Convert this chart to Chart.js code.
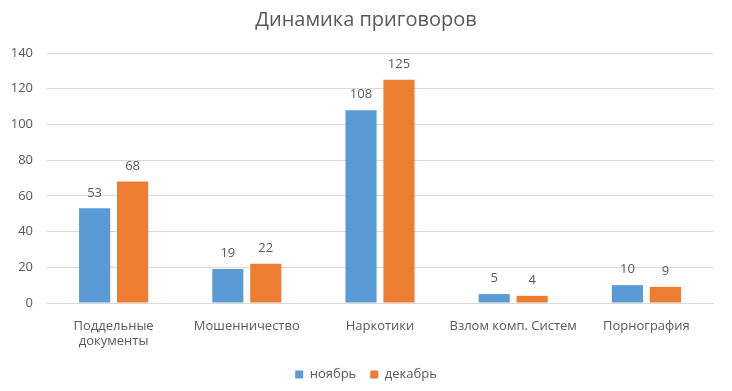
<!DOCTYPE html>
<html>
<head>
<meta charset="utf-8">
<script src="https://cdn.jsdelivr.net/npm/chart.js@4/dist/chart.umd.min.js"></script>
<style>
  html, body { margin: 0; padding: 0; background: #fff; }
  #wrap { width: 732px; height: 391px; }
</style>
</head>
<body>
<div id="wrap"><canvas id="chart" width="732" height="391"></canvas></div>
<script>
const categories = [['Поддельные', 'документы'], 'Мошенничество', 'Наркотики', 'Взлом комп. Систем', 'Порнография']
const novemberData = [53, 19, 108, 5, 10]
const decemberData = [68, 22, 125, 4, 9]
const seriesNames = ['ноябрь', 'декабрь']

const textColor = '#595959'
const fontFamily = '"Open Sans", "Noto Sans", sans-serif'

// подписи значений над столбцами
const valueLabels = {
    id: 'valueLabels',
    afterDatasetsDraw(chart) {
        const ctx = chart.ctx
        ctx.save()
        ctx.fillStyle = textColor
        ctx.font = '13px ' + fontFamily
        ctx.textAlign = 'center'
        ctx.textBaseline = 'bottom'
        chart.data.datasets.forEach((ds, i) => {
            chart.getDatasetMeta(i).data.forEach((bar, j) => {
                ctx.fillText(ds.data[j], bar.x, bar.y - 9)
            })
        })
        ctx.restore()
    }
}

new Chart(document.getElementById('chart'), {
    type: 'bar',
    data: {
        labels: categories,
        datasets: [
            {
                label: seriesNames[0],
                data: novemberData,
                backgroundColor: '#5B9BD5',
                categoryPercentage: 0.57,
                barPercentage: 0.82
            },
            {
                label: seriesNames[1],
                data: decemberData,
                backgroundColor: '#ED7D31',
                categoryPercentage: 0.57,
                barPercentage: 0.82
            }
        ]
    },
    options: {
        responsive: false,
        animation: false,
        layout: { padding: 0 },
        plugins: {
            title: {
                display: true,
                text: 'Динамика приговоров',
                color: textColor,
                font: { family: fontFamily, size: 20, weight: 'normal' },
                padding: { top: 8, bottom: 21 }
            },
            legend: {
                position: 'bottom',
                labels: {
                    color: textColor,
                    font: { family: fontFamily, size: 13 },
                    boxWidth: 8,
                    boxHeight: 8,
                    padding: 14
                }
            },
            tooltip: { enabled: false }
        },
        scales: {
            x: {
                grid: { display: false },
                border: { color: '#D9D9D9' },
                ticks: {
                    color: textColor,
                    font: { family: fontFamily, size: 13 },
                    maxRotation: 0,
                    padding: 7
                },
                afterFit(scale) { scale.height = 51 }
            },
            y: {
                min: 0,
                max: 140,
                ticks: {
                    stepSize: 20,
                    color: textColor,
                    font: { family: fontFamily, size: 13 },
                    padding: 14
                },
                grid: { color: '#D9D9D9', drawTicks: false },
                border: { display: false },
                afterFit(scale) { scale.width = 47 }
            },
            // пустая ось справа, только для отступа
            yRight: {
                position: 'right',
                grid: { display: false },
                ticks: { display: false },
                border: { display: false },
                afterFit(scale) { scale.width = 19 }
            }
        }
    },
    plugins: [valueLabels]
})
</script>
</body>
</html>
